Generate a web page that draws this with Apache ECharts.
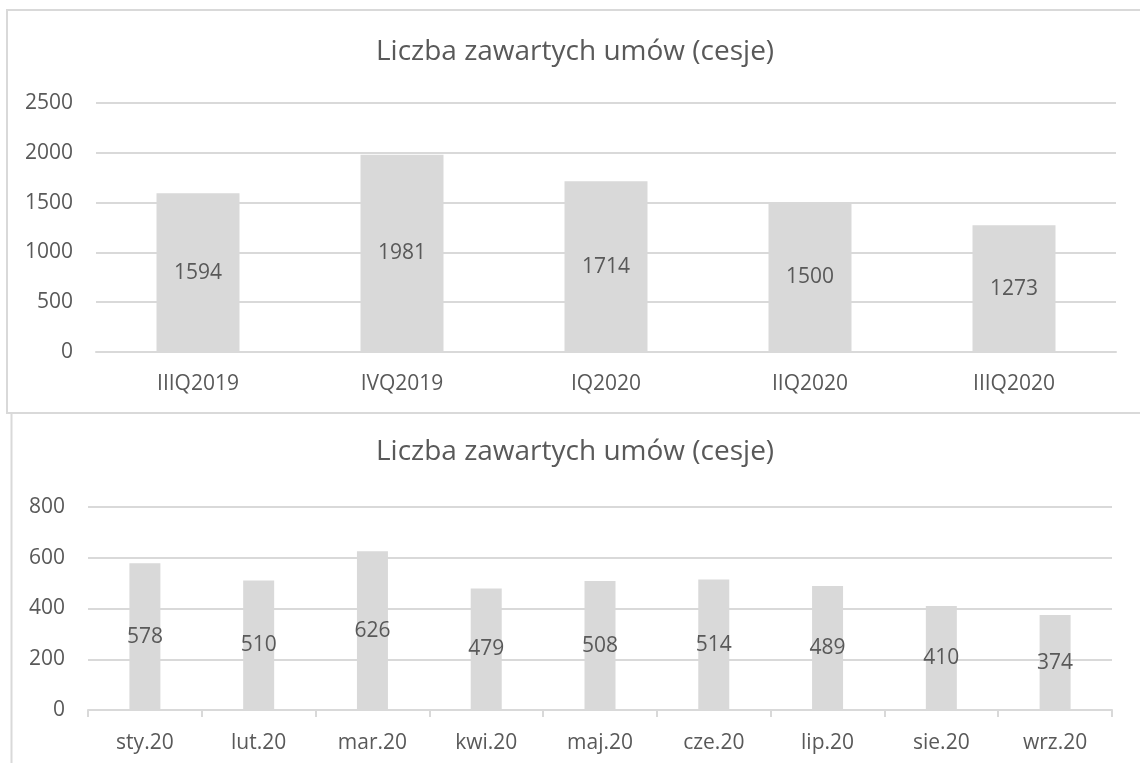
<!DOCTYPE html>
<html>
<head>
<meta charset="utf-8">
<script src="https://cdn.jsdelivr.net/npm/echarts@6/dist/echarts.min.js"></script>
<style>
  html, body { margin: 0; padding: 0; background: #ffffff; }
  #chart { width: 1140px; height: 763px; }
</style>
</head>
<body>
<div id="chart"></div>
<script>
// kwartały
var quarters = ['IIIQ2019', 'IVQ2019', 'IQ2020', 'IIQ2020', 'IIIQ2020']
var quarterValues = [1594, 1981, 1714, 1500, 1273]
// miesiące
var months = ['sty.20', 'lut.20', 'mar.20', 'kwi.20', 'maj.20', 'cze.20', 'lip.20', 'sie.20', 'wrz.20']
var monthValues = [578, 510, 626, 479, 508, 514, 489, 410, 374]

var titleText = 'Liczba zawartych umów (cesje)'
var textColor = '#595959'
var lineColor = '#d9d9d9'
var font = 'Open Sans'
var labelSize = 21

var chart = echarts.init(document.getElementById('chart'))

function yAxis(gridIndex, max, interval) {
  return {
    type: 'value',
    gridIndex: gridIndex,
    min: 0,
    max: max,
    interval: interval,
    axisLine: { show: false },
    axisTick: { show: false },
    axisLabel: {
      color: textColor,
      fontSize: labelSize,
      fontFamily: font,
      margin: 23,
      formatter: function(v) { return String(v) }
    },
    splitLine: { lineStyle: { color: lineColor, width: 2 } }
  }
}

chart.setOption({
  backgroundColor: '#ffffff',
  animation: false,
  graphic: [
    {
      type: 'rect',
      shape: { x: 7, y: 10, width: 1150, height: 403 },
      style: { fill: 'none', stroke: lineColor, lineWidth: 2 }
    },
    {
      type: 'line',
      shape: { x1: 11.5, y1: 414, x2: 11.5, y2: 770 },
      style: { stroke: lineColor, lineWidth: 2 }
    }
  ],
  title: [
    {
      text: titleText,
      left: 371,
      top: 33,
      textStyle: { color: textColor, fontSize: 28, fontWeight: 'normal', fontFamily: font }
    },
    {
      text: titleText,
      left: 371,
      top: 433,
      textStyle: { color: textColor, fontSize: 28, fontWeight: 'normal', fontFamily: font }
    }
  ],
  grid: [
    { left: 96, right: 24, top: 103, height: 249 },
    { left: 88, right: 28, top: 507, height: 203 }
  ],
  xAxis: [
    {
      type: 'category',
      gridIndex: 0,
      data: quarters,
      axisLine: { lineStyle: { color: lineColor, width: 2 } },
      axisTick: { show: false },
      axisLabel: { color: textColor, fontSize: labelSize, fontFamily: font, margin: 22 }
    },
    {
      type: 'category',
      gridIndex: 1,
      data: months,
      axisLine: { lineStyle: { color: lineColor, width: 2 } },
      axisTick: { show: true, length: 7, lineStyle: { color: lineColor, width: 2 } },
      axisLabel: { color: textColor, fontSize: labelSize, fontFamily: font, margin: 23 }
    }
  ],
  yAxis: [
    yAxis(0, 2500, 500),
    yAxis(1, 800, 200)
  ],
  series: [
    {
      type: 'bar',
      xAxisIndex: 0,
      yAxisIndex: 0,
      data: quarterValues,
      barWidth: 83,
      itemStyle: { color: '#d9d9d9' },
      label: { show: true, position: 'inside', color: textColor, fontSize: labelSize, fontFamily: font }
    },
    {
      type: 'bar',
      xAxisIndex: 1,
      yAxisIndex: 1,
      data: monthValues,
      barWidth: 31,
      itemStyle: { color: '#d9d9d9' },
      label: { show: true, position: 'inside', color: textColor, fontSize: labelSize, fontFamily: font }
    }
  ]
})
</script>
</body>
</html>
